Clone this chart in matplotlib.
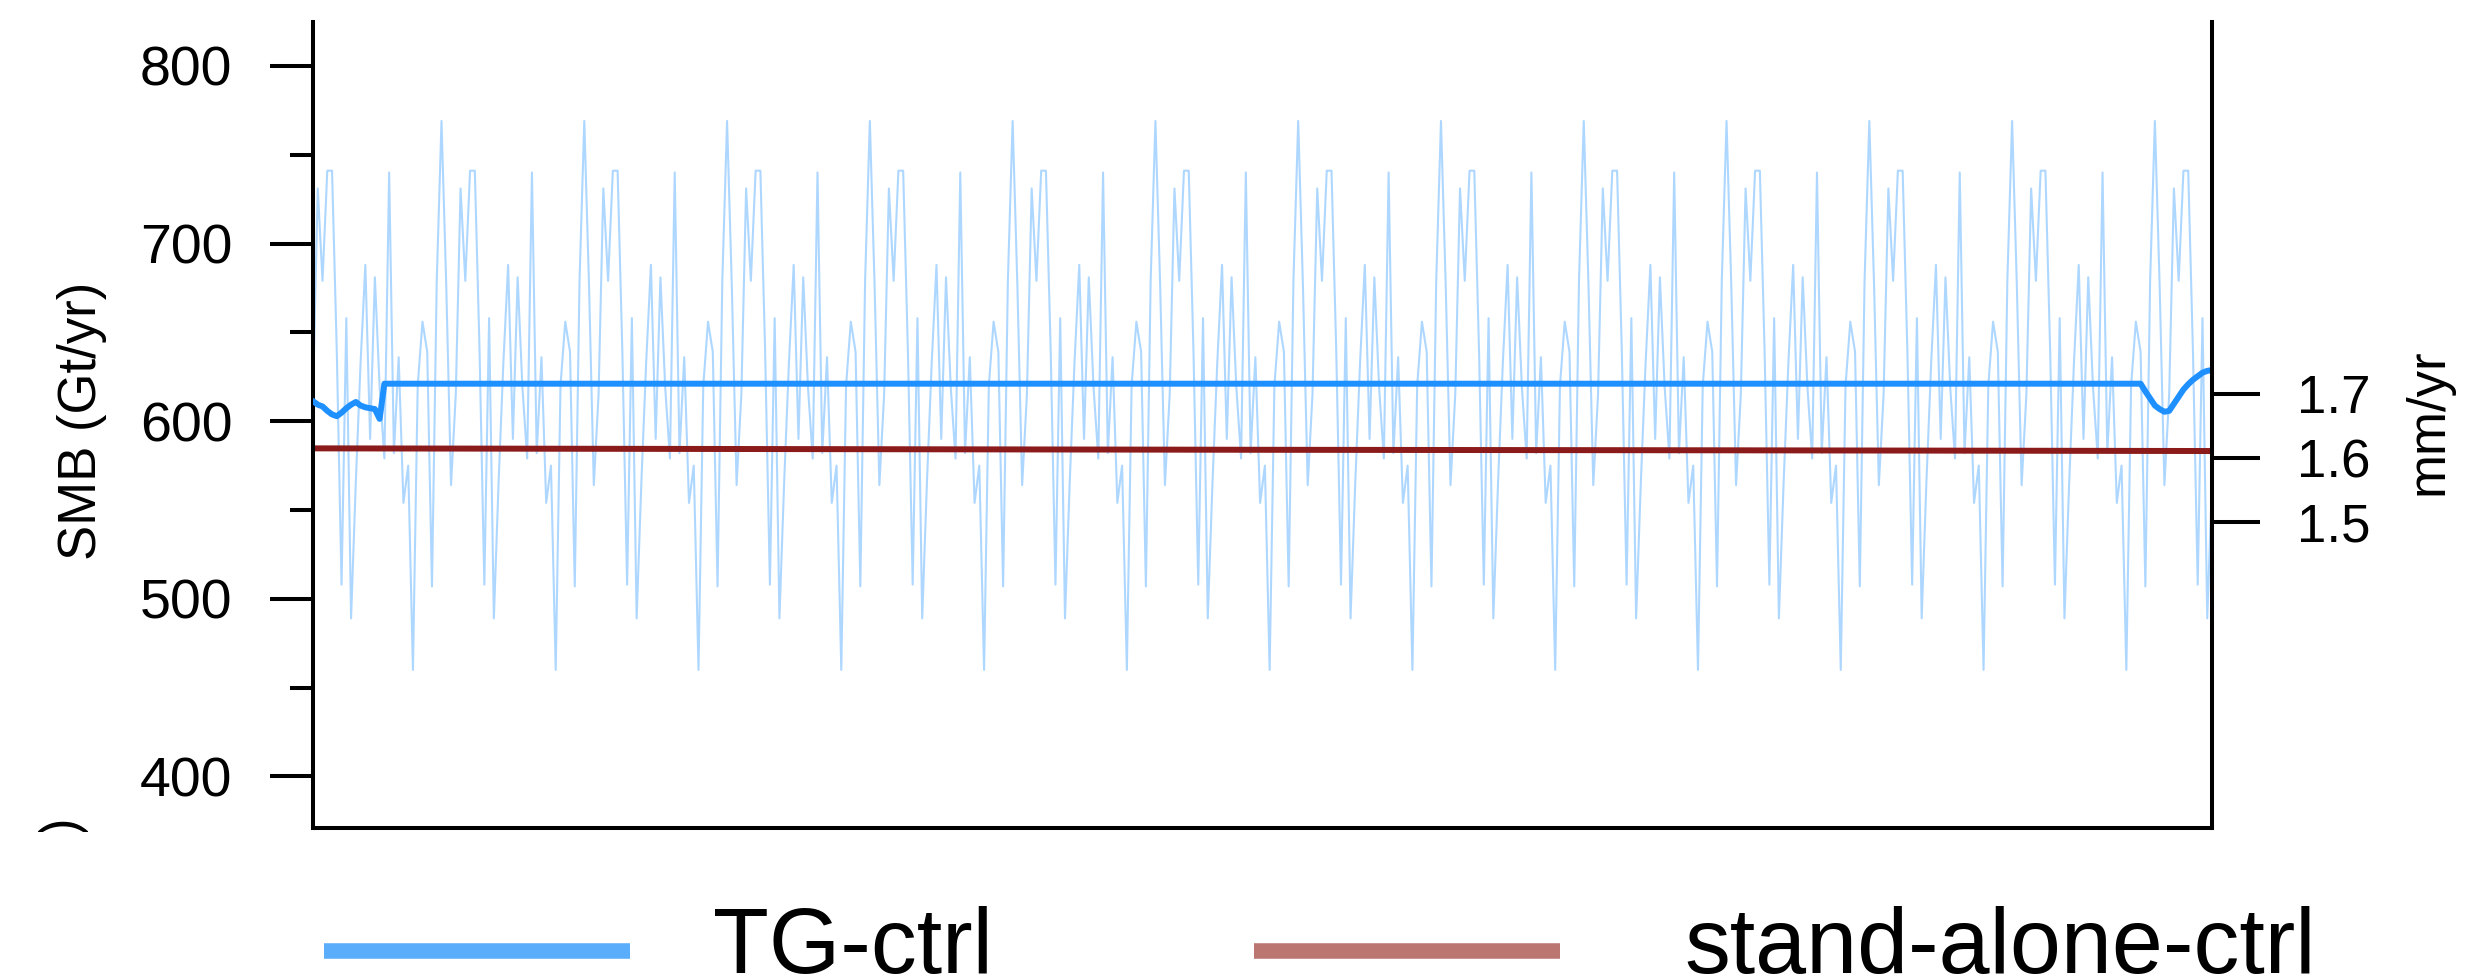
import numpy as np
import matplotlib
matplotlib.use("Agg")
import matplotlib.pyplot as plt
from matplotlib.lines import Line2D
from matplotlib.patches import Rectangle

plt.rcParams['font.family'] = ['Liberation Sans', 'DejaVu Sans']

# TG-ctrl annual SMB (Gt/yr): the control run cycles one 30-year forcing period
cycle_smb = [460, 620, 656, 639, 507, 679, 769, 676, 564, 615,
             731, 679, 741, 741, 639, 508, 658, 489, 566, 633,
             688, 590, 681, 619, 579, 740, 582, 636, 554, 575]
cycle_start = 9          # position in the cycle of model year 1
years = np.arange(1, 401)
tg_annual = np.array(cycle_smb)[(years - 1 + cycle_start) % len(cycle_smb)]

# TG-ctrl 30-year running mean (Gt/yr)
smooth_head = [611.3, 609.3, 608.3, 605.8, 603.8, 602.8, 604.8, 607.3,
               609.3, 610.8, 608.8, 607.8, 607.3, 606.8, 601.3]   # years 1-15
smooth_level = 621.1                                            # years 16-385
smooth_tail = [616.8, 612.8, 608.8, 606.8, 605.3, 605.8, 609.8, 613.8,
               617.8, 620.8, 623.3, 625.3, 627.3, 628.3, 628.8]   # years 386-400
tg_smooth = np.concatenate([smooth_head,
                            np.full(400 - len(smooth_head) - len(smooth_tail), smooth_level),
                            smooth_tail])

# stand-alone-ctrl SMB (Gt/yr)
sa_years = [1, 100, 200, 300, 400]
sa_smb = [584.7, 584.3, 583.9, 583.6, 583.2]

left_ticks = [400, 500, 600, 700, 800]
left_minor = [450, 550, 650, 750]
right_ticks = [1.5, 1.6, 1.7]
GT_PER_MM = 362.0        # Gt of ice per mm of global sea level

W, H = 2474, 980
fig = plt.figure(figsize=(W / 100, H / 100), dpi=100)
ax = fig.add_axes([313 / W, 1 - 828 / H, (2212 - 313) / W, (828 - 22) / H])

ax.plot(years, tg_annual, color='#8cc6ff', lw=1.5, alpha=0.7, zorder=1)
ax.plot(sa_years, sa_smb, color='#8b1a1a', lw=4.3, zorder=2)
ax.plot(years, tg_smooth, color='#1e90ff', lw=4.3, zorder=3,
        solid_joinstyle='round', solid_capstyle='round')

ylim = (371.0, 824.7)
ax.set_xlim(1, 400)
ax.set_ylim(*ylim)
ax.set_xticks([])
ax.set_yticks(left_ticks)
ax.set_yticks(left_minor, minor=True)
ax.tick_params(axis='y', which='major', length=31, width=2.9, labelsize=40,
               pad=27, direction='out', color='black')
ax.tick_params(axis='y', which='minor', length=16.5, width=2.9, direction='out')
ax.spines['top'].set_visible(False)
ax.spines['right'].set_visible(False)
for s in ('left', 'bottom'):
    ax.spines[s].set_linewidth(2.9)

# sea-level equivalent axis
ax2 = ax.twinx()
ax2.set_ylim(ylim[0] / GT_PER_MM, ylim[1] / GT_PER_MM)
ax2.set_yticks(right_ticks)
ax2.tick_params(axis='y', which='major', length=34.5, width=2.9, labelsize=38,
                pad=27, direction='out')
for s in ('top', 'left', 'bottom'):
    ax2.spines[s].set_visible(False)
ax2.spines['right'].set_linewidth(2.9)

fig.text(82 / W, 1 - 421 / H, 'SMB (Gt/yr)', rotation=90, fontsize=38,
         ha='center', va='center')
fig.text(2429 / W, 1 - 422 / H, 'mm/yr', rotation=90, fontsize=38,
         ha='center', va='center')

# clipped label of the panel below
fig.text(64 / W, 1 - 817 / H, ')', rotation=90, fontsize=38, ha='center', va='top')
fig.add_artist(Rectangle((0, 0), 300 / W, 1 - 832 / H, transform=fig.transFigure,
                         facecolor='white', edgecolor='none', zorder=5))

# legend
ly = 1 - 950.5 / H
fig.add_artist(Line2D([324 / W, 630 / W], [ly, ly], color='#5aadfa', lw=11.2,
                      solid_capstyle='butt', transform=fig.transFigure))
fig.add_artist(Line2D([1254 / W, 1560 / W], [ly, ly], color='#bc7672', lw=11.2,
                      solid_capstyle='butt', transform=fig.transFigure))
fig.text(713 / W, 1 - 973 / H, 'TG-ctrl', fontsize=66, va='baseline', ha='left')
fig.text(1684 / W, 1 - 973 / H, 'stand-alone-ctrl', fontsize=66, va='baseline', ha='left')

fig.savefig('out.png', dpi=100)
